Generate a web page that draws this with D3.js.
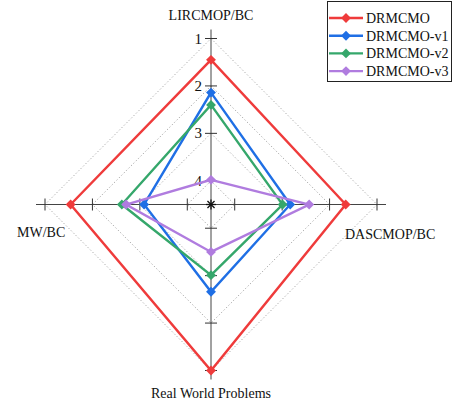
<!DOCTYPE html>
<html>
<head>
<meta charset="utf-8">
<script src="https://cdn.jsdelivr.net/npm/d3@7"></script>
<style>
  html, body { margin: 0; padding: 0; background: #fff; }
  svg { display: block; }
</style>
</head>
<body>
<svg id="chart" width="453" height="403"></svg>
<script>
// Average rank of each algorithm on each problem suite (lower is better)
const axesNames = ["LIRCMOP/BC", "DASCMOP/BC", "Real World Problems", "MW/BC"];
const seriesNames = ["DRMCMO", "DRMCMO-v1", "DRMCMO-v2", "DRMCMO-v3"];
const rankDRMCMO   = [1.45, 1.66, 1.00, 1.54];
const rankDRMCMOv1 = [2.14, 2.83, 2.66, 3.09];
const rankDRMCMOv2 = [2.40, 2.99, 3.01, 2.62];
const rankDRMCMOv3 = [3.98, 2.43, 3.50, 2.71];
const tickValues = [1, 2, 3, 4];
const tickLabels = ["1", "2", "3", "4"];
const colors = ["#ef3b3b", "#1f6fe5", "#35a76b", "#b07cdf"];

const seriesValues = [rankDRMCMO, rankDRMCMOv1, rankDRMCMOv2, rankDRMCMOv3];
const serif = "'Liberation Serif', 'DejaVu Serif', serif";

const svg = d3.select("#chart").style("font-family", serif);
const cx = 211, cy = 204.5;

// radial scale: rank 4.5 sits at the centre, rank 1 on the outer ring
const r = d3.scaleLinear().domain([4.5, 1]).range([0, 166]);
// axis directions: up, right, down, left
const angle = d3.scaleOrdinal().domain(d3.range(axesNames.length))
  .range([-Math.PI / 2, 0, Math.PI / 2, Math.PI]);

const pt = (i, v) => [cx + r(v) * Math.cos(angle(i)), cy + r(v) * Math.sin(angle(i))];

const g = svg.append("g");

// dotted grid rings
tickValues.forEach(t => {
  const pts = d3.range(axesNames.length).map(i => pt(i, t));
  g.append("path")
    .attr("d", d3.line()(pts) + "Z")
    .attr("fill", "none")
    .attr("stroke", "#a4a4a4")
    .attr("stroke-width", 1)
    .attr("stroke-dasharray", "1.2,2.2");
});

// axis lines
const axisExtent = r.invert(175);
d3.range(axesNames.length).forEach(i => {
  const [x2, y2] = pt(i, axisExtent);
  g.append("line")
    .attr("x1", cx).attr("y1", cy).attr("x2", x2).attr("y2", y2)
    .attr("stroke", "#444").attr("stroke-width", 1);
  // tick marks perpendicular to each axis
  tickValues.forEach(t => {
    const [x, y] = pt(i, t);
    const a = angle(i) + Math.PI / 2;
    const h = 6;
    g.append("line")
      .attr("x1", x - h * Math.cos(a)).attr("y1", y - h * Math.sin(a))
      .attr("x2", x + h * Math.cos(a)).attr("y2", y + h * Math.sin(a))
      .attr("stroke", "#333").attr("stroke-width", 1);
  });
});

// centre mark
[0, 45, 90, 135].forEach(a => {
  const rad = a * Math.PI / 180, h = 5;
  g.append("line")
    .attr("x1", cx - h * Math.cos(rad)).attr("y1", cy - h * Math.sin(rad))
    .attr("x2", cx + h * Math.cos(rad)).attr("y2", cy + h * Math.sin(rad))
    .attr("stroke", "#111").attr("stroke-width", 1.3);
});

// tick labels along the top axis
tickValues.forEach((t, k) => {
  const [x, y] = pt(0, t);
  g.append("text")
    .attr("x", x - 9).attr("y", y + 5)
    .attr("text-anchor", "end")
    .attr("font-family", serif)
    .attr("font-size", 15)
    .attr("fill", "#111")
    .text(tickLabels[k]);
});

// series polygons and markers
const diamond = d3.symbol().type(d3.symbolDiamond2).size(62);
seriesValues.forEach((vals, s) => {
  const pts = vals.map((v, i) => pt(i, v));
  g.append("path")
    .attr("d", d3.line()(pts) + "Z")
    .attr("fill", "none")
    .attr("stroke", colors[s])
    .attr("stroke-width", 2.4)
    .attr("stroke-linejoin", "miter");
  pts.forEach(p => {
    g.append("path")
      .attr("d", diamond())
      .attr("transform", `translate(${p[0]},${p[1]})`)
      .attr("fill", colors[s]);
  });
});

// axis names
const labelPos = [
  { x: 211, y: 20, anchor: "middle" },
  { x: 345, y: 239, anchor: "start" },
  { x: 211, y: 398, anchor: "middle" },
  { x: 17, y: 237, anchor: "start" }
];
axesNames.forEach((name, i) => {
  g.append("text")
    .attr("x", labelPos[i].x).attr("y", labelPos[i].y)
    .attr("text-anchor", labelPos[i].anchor)
    .attr("font-family", serif)
    .attr("font-size", 14)
    .attr("fill", "#111")
    .text(name);
});

// legend
const lg = svg.append("g");
lg.append("rect")
  .attr("x", 327.5).attr("y", 1.5).attr("width", 124).attr("height", 80)
  .attr("fill", "#fff").attr("stroke", "#222").attr("stroke-width", 1);
seriesNames.forEach((name, s) => {
  const y = 18 + s * 17.7;
  lg.append("line")
    .attr("x1", 329).attr("x2", 363).attr("y1", y).attr("y2", y)
    .attr("stroke", colors[s]).attr("stroke-width", 2.4);
  lg.append("path")
    .attr("d", diamond())
    .attr("transform", `translate(346,${y})`)
    .attr("fill", colors[s]);
  lg.append("text")
    .attr("x", 366).attr("y", y + 5)
    .attr("font-family", serif)
    .attr("font-size", 14)
    .attr("fill", "#111")
    .text(name);
});
</script>
</body>
</html>
